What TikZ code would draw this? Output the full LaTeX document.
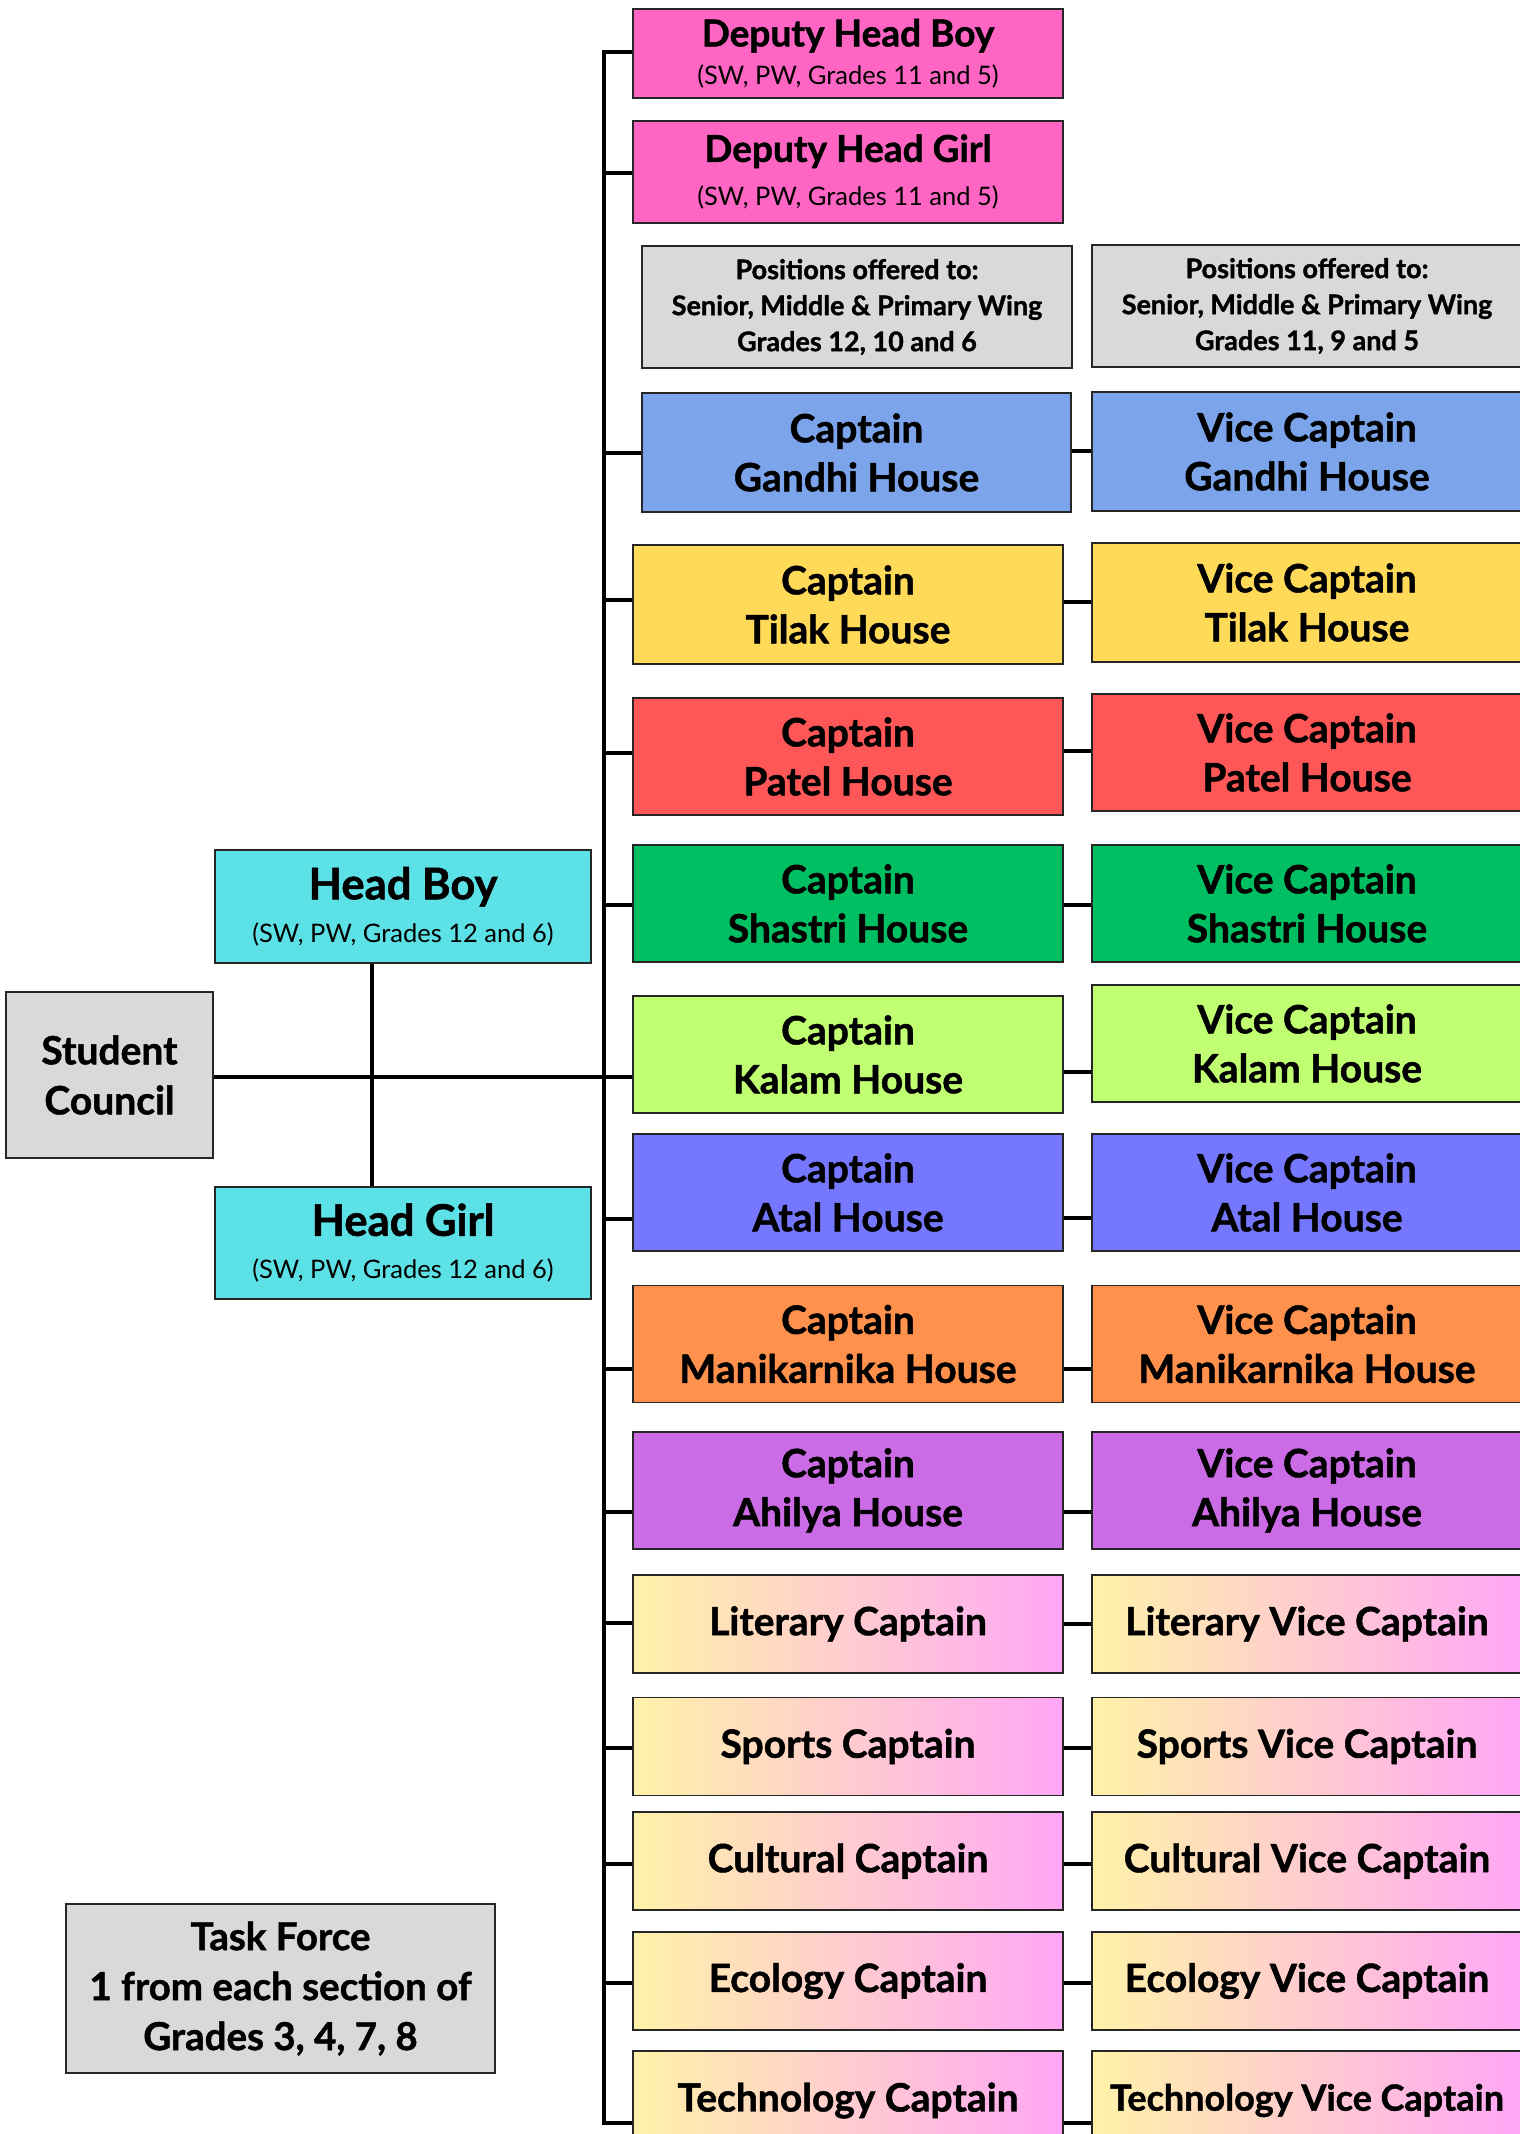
\documentclass[tikz,border=0pt]{standalone}
\usepackage{fontspec}
\setmainfont{Lato}[BoldFeatures={FakeBold=1.2}]
\definecolor{cpink}{HTML}{FF66C4}
\definecolor{cgray}{HTML}{D9D9D9}
\definecolor{ccyan}{HTML}{5CE1E6}
\definecolor{cgandhi}{HTML}{7BA4EA}
\definecolor{ctilak}{HTML}{FFDA59}
\definecolor{cpatel}{HTML}{FF5757}
\definecolor{cshastri}{HTML}{00BF63}
\definecolor{ckalam}{HTML}{C1FF72}
\definecolor{catal}{HTML}{7577FF}
\definecolor{cmanik}{HTML}{FF914D}
\definecolor{cahilya}{HTML}{CB6CE6}
\definecolor{gradL}{HTML}{FFF2A8}
\definecolor{gradR}{HTML}{FFA6F6}
\begin{document}
\begin{tikzpicture}[x=1pt,y=-1pt,
  box/.style={draw=black!85, line width=1.5pt, inner sep=0pt, align=center, text=black,
    font=\bfseries\fontsize{39}{49}\selectfont, minimum width=430pt},
  house/.style={box, minimum height=117pt},
  grad/.style={box, left color=gradL, right color=gradR, minimum height=98pt},
  conn/.style={line width=3.5pt, black}
]
\useasboundingbox (0,0) rectangle (1519,2134);

% left part
\node[box, fill=cgray, minimum width=207pt, minimum height=166pt, font=\bfseries\fontsize{39}{50}\selectfont] (sc) at (109.5,1075) {Student\\Council};
\node[box, fill=ccyan, minimum width=376pt, minimum height=113pt] (hb) at (403,906.5)
  {{\fontsize{43.5}{46}\selectfont Head Boy}\\[-6pt]{\mdseries\fontsize{25.5}{28}\selectfont (SW, PW, Grades 12 and 6)}};
\node[box, fill=ccyan, minimum width=376pt, minimum height=112pt] (hg) at (403,1243)
  {{\fontsize{43.5}{46}\selectfont Head Girl}\\[-6pt]{\mdseries\fontsize{25.5}{28}\selectfont (SW, PW, Grades 12 and 6)}};
\node[box, fill=cgray, minimum width=429pt, minimum height=169pt, font=\bfseries\fontsize{38.5}{50}\selectfont] (tf) at (280.5,1988.5)
  {Task Force\\1 from each section of\\Grades 3, 4, 7, 8};

% deputies
\node[box, fill=cpink, minimum height=89pt] (dhb) at (848,53.5)
  {{\fontsize{37}{38}\selectfont Deputy Head Boy}\\[-11pt]{\mdseries\fontsize{25.5}{28}\selectfont (SW, PW, Grades 11 and 5)}};
\node[box, fill=cpink, minimum height=102pt] (dhg) at (848,172)
  {{\fontsize{37}{38}\selectfont Deputy Head Girl}\\[-5pt]{\mdseries\fontsize{25.5}{28}\selectfont (SW, PW, Grades 11 and 5)}};

% headers
\node[box, fill=cgray, minimum height=122pt, font=\bfseries\fontsize{27}{36}\selectfont] (pos1) at (857,307)
  {Positions offered to:\\Senior, Middle \& Primary Wing\\Grades 12, 10 and 6};
\node[box, fill=cgray, minimum height=122pt, font=\bfseries\fontsize{27}{36}\selectfont] (pos2) at (1307,306)
  {Positions offered to:\\Senior, Middle \& Primary Wing\\Grades 11, 9 and 5};

% houses
\node[house, fill=cgandhi, minimum height=119pt, minimum width=429pt] (capG) at (856.5,452.5) {Captain\\Gandhi House};
\node[house, fill=cgandhi, minimum height=119pt] (vcapG) at (1307,451.5) {Vice Captain\\Gandhi House};
\node[house, fill=ctilak, minimum height=119pt] (capT) at (848,604.5) {Captain\\Tilak House};
\node[house, fill=ctilak, minimum height=119pt] (vcapT) at (1307,602.5) {Vice Captain\\Tilak House};
\node[house, fill=cpatel] (capP) at (848,756.5) {Captain\\Patel House};
\node[house, fill=cpatel] (vcapP) at (1307,752.5) {Vice Captain\\Patel House};
\node[house, fill=cshastri] (capS) at (848,903.5) {Captain\\Shastri House};
\node[house, fill=cshastri] (vcapS) at (1307,903.5) {Vice Captain\\Shastri House};
\node[house, fill=ckalam] (capK) at (848,1054.5) {Captain\\Kalam House};
\node[house, fill=ckalam] (vcapK) at (1307,1043.5) {Vice Captain\\Kalam House};
\node[house, fill=catal] (capA) at (848,1192.5) {Captain\\Atal House};
\node[house, fill=catal] (vcapA) at (1307,1192.5) {Vice Captain\\Atal House};
\node[house, fill=cmanik] (capM) at (848,1344) {Captain\\Manikarnika House};
\node[house, fill=cmanik] (vcapM) at (1307,1344) {Vice Captain\\Manikarnika House};
\node[house, fill=cahilya] (capH) at (848,1490.5) {Captain\\Ahilya House};
\node[house, fill=cahilya] (vcapH) at (1307,1490.5) {Vice Captain\\Ahilya House};

% activity captains
\node[grad] (capL) at (848,1624) {Literary Captain};
\node[grad] (vcapL) at (1307,1624) {Literary Vice Captain};
\node[grad] (capSp) at (848,1746.5) {Sports Captain};
\node[grad] (vcapSp) at (1307,1746.5) {Sports Vice Captain};
\node[grad] (capC) at (848,1861) {Cultural Captain};
\node[grad] (vcapC) at (1307,1861) {Cultural Vice Captain};
\node[grad] (capE) at (848,1981) {Ecology Captain};
\node[grad] (vcapE) at (1307,1981) {Ecology Vice Captain};
\node[grad, minimum height=99pt] (capTe) at (848,2100.5) {Technology Captain};
\node[grad, minimum height=99pt, font=\bfseries\fontsize{36}{49}\selectfont] (vcapTe) at (1307,2100.5) {Technology Vice Captain};

% trunk
\path (604,52) coordinate (ttop) (604,2123) coordinate (tbot);
\draw[conn] (ttop -| dhb.west) -- (ttop) -- (tbot) -- (tbot -| capTe.west);
\foreach \n/\y in {dhg/173, capG/453, capT/600, capP/753, capS/905, capA/1219, capM/1369, capH/1512,
                  capL/1623, capSp/1748, capC/1864, capE/1983} {
  \path (604,\y) coordinate (tt);
  \draw[conn] (tt) -- (tt -| \n.west);
}
% captain to vice captain
\foreach \n/\y in {capG/451, capT/602, capP/751, capS/905, capK/1072, capA/1218, capM/1369, capH/1512,
                  capL/1624, capSp/1748, capC/1864, capE/1983, capTe/2123} {
  \path (1080,\y) coordinate (tv);
  \draw[conn] (tv -| \n.east) -- (tv -| v\n.west);
}
% main line
\path (604,1077) coordinate (tK) (372,1077) coordinate (hv);
\draw[conn] (tK -| sc.east) -- (tK -| capK.west);
\draw[conn] (hv |- hb.south) -- (hv |- hg.north);
\end{tikzpicture}
\end{document}
